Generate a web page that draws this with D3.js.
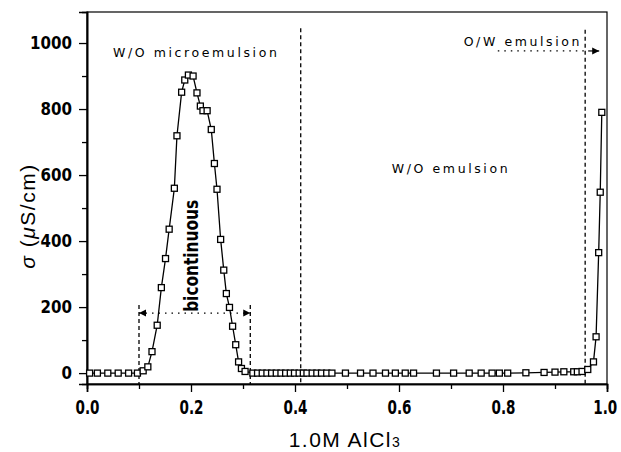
<!DOCTYPE html>
<html>
<head>
<meta charset="utf-8">
<script src="https://cdn.jsdelivr.net/npm/d3@7"></script>
<style>
  body { margin: 0; background: #fff; }
  .tickLabel { font-family: "Liberation Sans Narrow", "DejaVu Sans Condensed", "DejaVu Sans", sans-serif; font-weight: bold; }
  .note { font-family: "DejaVu Sans", sans-serif; font-size: 12.5px; letter-spacing: 2.6px; }
</style>
</head>
<body>
<div id="svg-area"></div>
<script>
// data: volume fraction of 1.0M AlCl3 vs conductivity
var fraction = [
  0.005, 0.02, 0.04, 0.06, 0.08, 0.097,
  0.108, 0.117, 0.125, 0.135, 0.143, 0.151, 0.158, 0.168, 0.173, 0.182,
  0.188, 0.195, 0.204, 0.2115, 0.218, 0.223, 0.231, 0.239, 0.245, 0.25,
  0.257, 0.263, 0.268, 0.274, 0.28, 0.286, 0.2915, 0.297, 0.304,
  0.319, 0.328, 0.337, 0.346, 0.355, 0.364, 0.373, 0.382, 0.391, 0.399,
  0.408, 0.416, 0.423, 0.433, 0.442, 0.451, 0.461, 0.471,
  0.497, 0.526, 0.55, 0.574, 0.593, 0.612, 0.628, 0.672, 0.705, 0.735,
  0.758, 0.779, 0.793, 0.809, 0.844, 0.879, 0.9, 0.917, 0.936, 0.943, 0.952,
  0.963, 0.974, 0.979, 0.984, 0.987, 0.99
];
var sigma = [
  0, 0, 0, 0, 0, 0,
  7, 19, 65, 145, 259, 347, 436, 560, 719, 851,
  888, 903, 900, 849, 809, 795, 795, 738, 635, 557,
  405, 312, 241, 199, 142, 86, 34, 14, 5,
  0, 0, 0, 0, 0, 0, 0, 0, 0, 0,
  0, 0, 0, 0, 0, 0, 0, 0,
  0, 0, 0, 0, 0, 0, 0, 0, 0, 0,
  0, 0, 0, 0, 1, 2, 3, 4, 4, 4, 5,
  11, 34, 110, 365, 548, 790
];
var xTicks = [0, 0.2, 0.4, 0.6, 0.8, 1.0];
var xMinor = [0.1, 0.3, 0.5, 0.7, 0.9];
var yTicks = [0, 200, 400, 600, 800, 1000];
var yMinor = [100, 300, 500, 700, 900];

// phase boundaries and labels
var biLeft = 0.1, biRight = 0.314, biLevel = 182, biTop = 206;
var woLimit = 0.411, owLimit = 0.958;

var svgWidth = 621;
var svgHeight = 452;
var margin = { top: 12, right: 14, bottom: 68, left: 87 };
var chartWidth = svgWidth - margin.left - margin.right;
var chartHeight = svgHeight - margin.top - margin.bottom;

var svg = d3.select("#svg-area")
  .append("svg")
  .attr("width", svgWidth)
  .attr("height", svgHeight);

var chartGroup = svg.append("g")
  .attr("transform", `translate(${margin.left}, ${margin.top})`);

var x = d3.scaleLinear().domain([0, 1]).range([0, chartWidth]);
var y = d3.scaleLinear().domain([-33, 1094]).range([chartHeight, 0]);

// squeeze bold labels horizontally (about their own anchor) so they look narrow like the original
function narrow(sel, digitW, dotW, anchorX) {
  sel.each(function() {
    var t = d3.select(this);
    var s = t.text();
    var w = 0;
    for (var c of s) w += (c === ".") ? dotW : digitW;
    var sx = Math.min(1, w / this.getComputedTextLength());
    t.attr("x", anchorX / sx).attr("transform", `scale(${sx},1)`);
  });
}

// frame
chartGroup.append("rect")
  .attr("width", chartWidth)
  .attr("height", chartHeight)
  .attr("fill", "none")
  .attr("stroke", "#000")
  .attr("stroke-width", 1.2);

// axes
var bottomAxis = d3.axisBottom(x).tickValues(xTicks).tickSize(8).tickFormat(d3.format(".1f"));
var leftAxis = d3.axisLeft(y).tickValues(yTicks).tickSize(8).tickFormat(d3.format("d"));

var xAxisG = chartGroup.append("g")
  .attr("transform", `translate(0, ${chartHeight})`)
  .call(bottomAxis);
xAxisG.selectAll("text")
  .attr("class", "tickLabel")
  .attr("font-size", 20)
  .attr("dy", "0.95em")
  .attr("fill", "#000")
  .call(narrow, 9.5, 5, 0);
// last label sits against the window edge, nudge it in a little
xAxisG.selectAll("text").filter(d => d === 1).attr("dx", -3);

var yAxisG = chartGroup.append("g").call(leftAxis);
yAxisG.selectAll("text")
  .attr("class", "tickLabel")
  .attr("font-size", 18)
  .attr("fill", "#000")
  .call(narrow, 10.5, 5, -15);

chartGroup.append("g")
  .attr("transform", `translate(0, ${chartHeight})`)
  .call(d3.axisBottom(x).tickValues(xMinor).tickSize(5).tickFormat(""));
chartGroup.append("g")
  .call(d3.axisLeft(y).tickValues(yMinor).tickSize(5).tickFormat(""));

chartGroup.selectAll(".domain").attr("stroke-width", 1.6);
chartGroup.selectAll(".tick line").attr("stroke-width", 1.3);

// boundary lines
function vDash(xv, yTop) {
  chartGroup.append("line")
    .attr("x1", x(xv)).attr("x2", x(xv))
    .attr("y1", y(yTop)).attr("y2", chartHeight)
    .attr("stroke", "#000").attr("stroke-width", 1.3)
    .attr("stroke-dasharray", "4,3");
}
vDash(biLeft, biTop);
vDash(biRight, biTop);
vDash(woLimit, 1045);
vDash(owLimit, 1040);

function hDot(x1, x2, yv) {
  chartGroup.append("line")
    .attr("x1", x(x1)).attr("x2", x(x2))
    .attr("y1", y(yv)).attr("y2", y(yv))
    .attr("stroke", "#000").attr("stroke-width", 1.3)
    .attr("stroke-dasharray", "1.5,5");
}
hDot(biLeft, biRight, biLevel);
hDot(0.79, owLimit, 976);

// little arrow heads
function arrowHead(xv, yv, dir) {
  var px = x(xv), py = y(yv);
  chartGroup.append("path")
    .attr("d", `M${px},${py} l${-7 * dir},-3.5 l0,7 Z`)
    .attr("fill", "#000");
}
arrowHead(biLeft, biLevel, -1);
arrowHead(biRight, biLevel, 1);
chartGroup.append("line")
  .attr("x1", x(owLimit) + 3).attr("x2", x(0.985))
  .attr("y1", y(976)).attr("y2", y(976))
  .attr("stroke", "#000").attr("stroke-width", 1.2);
arrowHead(0.985, 976, 1);

// data line and square markers
var points = fraction.map((f, i) => ({ f: f, s: sigma[i] }));

var line = d3.line().x(d => x(d.f)).y(d => y(d.s));
chartGroup.append("path")
  .datum(points)
  .attr("d", line)
  .attr("fill", "none")
  .attr("stroke", "#000")
  .attr("stroke-width", 1.3);

chartGroup.selectAll(".pt")
  .data(points)
  .enter()
  .append("rect")
  .attr("class", "pt")
  .attr("x", d => x(d.f) - 3)
  .attr("y", d => y(d.s) - 3)
  .attr("width", 6)
  .attr("height", 6)
  .attr("fill", "#fff")
  .attr("stroke", "#000")
  .attr("stroke-width", 1.3);

// region labels
chartGroup.append("text").attr("class", "note")
  .attr("x", x(0.21)).attr("y", y(972)).attr("dy", "0.35em")
  .attr("text-anchor", "middle")
  .text("W/O microemulsion");

chartGroup.append("text").attr("class", "note")
  .attr("x", x(0.70)).attr("y", y(621)).attr("dy", "0.35em")
  .attr("text-anchor", "middle")
  .text("W/O emulsion");

chartGroup.append("text").attr("class", "note")
  .attr("x", x(0.952)).attr("y", y(1003)).attr("dy", "0.35em")
  .attr("text-anchor", "end")
  .text("O/W emulsion");

var bi = chartGroup.append("text")
  .attr("class", "tickLabel")
  .attr("font-size", 19)
  .attr("text-anchor", "middle")
  .attr("dy", "0.35em")
  .text("bicontinuous");
var biScale = Math.min(1, 112 / bi.node().getComputedTextLength());
bi.attr("transform", `translate(${x(0.2)}, ${y(355)}) rotate(-90) scale(${biScale},1)`);

// axis titles
svg.append("text")
  .attr("transform", `translate(28, ${margin.top + chartHeight / 2 + 18}) rotate(-90)`)
  .attr("text-anchor", "middle")
  .attr("dy", "0.35em")
  .attr("font-family", "Liberation Sans, Arial, sans-serif")
  .attr("font-size", 21)
  .attr("letter-spacing", 1.5)
  .html('<tspan font-style="italic">σ</tspan> (<tspan font-style="italic">μ</tspan>S/cm)');

svg.append("text")
  .attr("x", margin.left + chartWidth / 2 - 2)
  .attr("y", 447)
  .attr("text-anchor", "middle")
  .attr("font-family", "Liberation Sans, Arial, sans-serif")
  .attr("font-size", 21)
  .attr("letter-spacing", 1.5)
  .html('1.0M AlCl<tspan font-size="14">3</tspan>');
</script>
</body>
</html>
